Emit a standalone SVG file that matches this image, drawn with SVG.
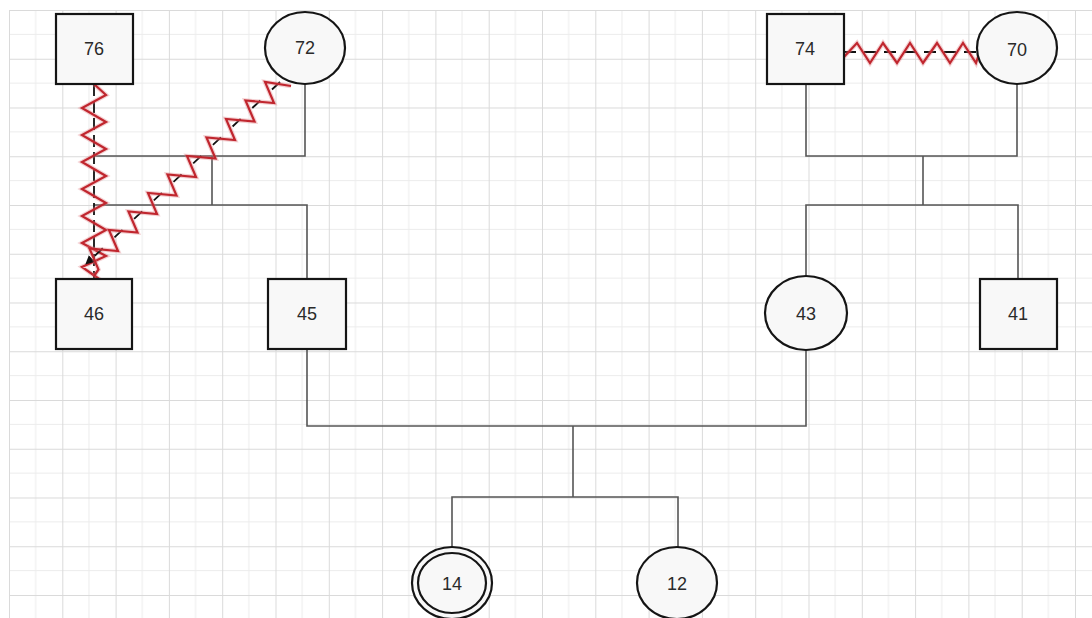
<svg xmlns="http://www.w3.org/2000/svg" width="1092" height="618" viewBox="0 0 1092 618">
  <style>
    .node { fill: #f8f8f8; stroke: #151515; stroke-width: 2.2; }
    .lbl { font-family: "Liberation Sans", Arial, sans-serif; font-size: 18px; fill: #2a2a2a; text-anchor: middle; }
    .edge { fill: none; stroke: #555; stroke-width: 1.6; }
    .dash { fill: none; stroke: #111; stroke-width: 1.8; }
    .zig { fill: none; stroke: #c0262e; stroke-width: 2.2; stroke-linejoin: miter; }
    .halo { fill: none; stroke: #e07a80; stroke-width: 4.5; stroke-opacity: 0.35; stroke-linejoin: miter; }
  </style>
  <defs>
    <pattern id="grid" patternUnits="userSpaceOnUse" x="9" y="10" width="53.3" height="48.75">
      <path d="M26.65 0 V48.75 M0 24.375 H53.3" stroke="#ececec" stroke-width="1" fill="none"/>
      <path d="M0.5 0 V48.75 M0 0.5 H53.3" stroke="#dadada" stroke-width="1" fill="none"/>
    </pattern>
    <marker id="arrow" viewBox="0 0 10 10" refX="9" refY="5" markerWidth="5" markerHeight="5" orient="auto" markerUnits="strokeWidth">
      <path d="M0 0 L10 5 L0 10 Z" fill="#111"/>
    </marker>
  </defs>

  <rect x="0" y="0" width="1092" height="618" fill="#ffffff"/>
  <rect x="9" y="10" width="1083" height="608" fill="url(#grid)"/>

  <g id="connectors">
    <path class="edge" d="M305,84 V156 H94"/>
    <path class="edge" d="M212,156 V205"/>
    <path class="edge" d="M94,205 H307 V279"/>
    <path class="edge" d="M806,84 V156 H1017 V84"/>
    <path class="edge" d="M923,156 V205"/>
    <path class="edge" d="M806,276 V205 H1018 V279"/>
    <path class="edge" d="M307,349 V426 H806 V350"/>
    <path class="edge" d="M573,426 V497"/>
    <path class="edge" d="M452,547 V497 H678 V547"/>

    <!-- 76 - 46 relation -->
    <path class="dash" d="M94,84 V279" stroke-dasharray="12 5"/>
    <path class="halo" d="M94,84 L106,95 L82,108 L106,122 L82,135 L106,149 L82,162 L106,176 L82,189 L106,203 L82,216 L106,230 L82,243 L106,256 L82,267 L102,281"/>
    <path class="zig" d="M94,84 L106,95 L82,108 L106,122 L82,135 L106,149 L82,162 L106,176 L82,189 L106,203 L82,216 L106,230 L82,243 L106,256 L82,267 L102,281"/>

    <!-- 72 - 46 relation -->
    <path class="dash" d="M280,82 L86,264" stroke-dasharray="11 16" marker-end="url(#arrow)"/>
    <path class="halo" d="M291,86 L265,82 L274,103 L245.5,100.5 L254.5,121.5 L226,119 L235,140 L206.5,137.5 L215.5,158.5 L187,156 L196,177 L167.5,174.5 L176.5,195.5 L148,193 L157,214 L128.5,211.5 L137.5,232.5 L109,230 L118,251 L89.5,248.5 L98.5,269.5 L94,276"/>
    <path class="zig" d="M291,86 L265,82 L274,103 L245.5,100.5 L254.5,121.5 L226,119 L235,140 L206.5,137.5 L215.5,158.5 L187,156 L196,177 L167.5,174.5 L176.5,195.5 L148,193 L157,214 L128.5,211.5 L137.5,232.5 L109,230 L118,251 L89.5,248.5 L98.5,269.5 L94,276"/>

    <!-- 74 - 70 relation -->
    <path class="dash" d="M844,52 H978" stroke-dasharray="12 8"/>
    <path class="halo" d="M843,58 L857,43 L870,63 L883,43 L897,63 L910,43 L923,63 L937,43 L950,63 L963,43 L976,63 L982,45"/>
    <path class="zig" d="M843,58 L857,43 L870,63 L883,43 L897,63 L910,43 L923,63 L937,43 L950,63 L963,43 L976,63 L982,45"/>
  </g>

  <g id="n76"><rect class="node" x="56" y="14" width="77" height="70"/><text class="lbl" x="94" y="55">76</text></g>
  <g id="n72"><ellipse class="node" cx="305" cy="48" rx="40" ry="36"/><text class="lbl" x="305" y="54">72</text></g>
  <g id="n74"><rect class="node" x="767" y="14" width="77" height="70"/><text class="lbl" x="805" y="55">74</text></g>
  <g id="n70"><ellipse class="node" cx="1017" cy="48" rx="40" ry="36"/><text class="lbl" x="1017" y="56">70</text></g>
  <g id="n46"><rect class="node" x="56" y="279" width="76" height="70"/><text class="lbl" x="94" y="320">46</text></g>
  <g id="n45"><rect class="node" x="268" y="279" width="78" height="70"/><text class="lbl" x="307" y="320">45</text></g>
  <g id="n43"><ellipse class="node" cx="806" cy="313" rx="41" ry="37"/><text class="lbl" x="806" y="320">43</text></g>
  <g id="n41"><rect class="node" x="980" y="279" width="77" height="70"/><text class="lbl" x="1018" y="320">41</text></g>
  <g id="n14"><ellipse class="node" cx="452" cy="583" rx="40" ry="36"/><ellipse class="node" cx="452" cy="583" rx="34" ry="30"/><text class="lbl" x="452" y="590">14</text></g>
  <g id="n12"><ellipse class="node" cx="677" cy="583" rx="40" ry="36"/><text class="lbl" x="677" y="590">12</text></g>
</svg>
